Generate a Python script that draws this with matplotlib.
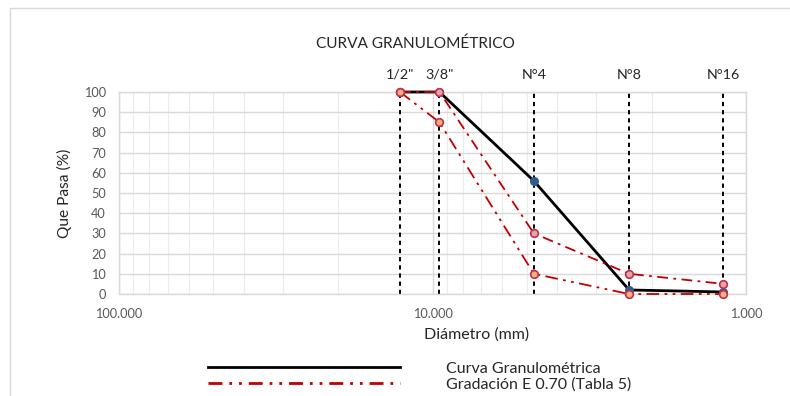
import matplotlib
matplotlib.use("Agg")
import matplotlib.pyplot as plt
from matplotlib.lines import Line2D
from matplotlib.patches import Rectangle
from matplotlib.ticker import FixedLocator, NullFormatter, LogLocator

plt.rcParams['font.family'] = ['Lato', 'DejaVu Sans']

# ---- data ----
sieve_labels = ['1/2"', '3/8"', 'N°4', 'N°8', 'N°16']
diam_mm = [12.7, 9.5, 4.75, 2.36, 1.18]
curva = [100, 100, 56, 2, 1]
limite_sup = [100, 100, 30, 10, 5]
limite_inf = [100, 85, 10, 0, 0]
xtick_vals = [100, 10, 1]
xtick_labels = ['100.000', '10.000', '1.000']
ytick_vals = list(range(0, 101, 10))

W, H = 790, 396
fig = plt.figure(figsize=(W / 100, H / 100), dpi=100)
fig.patch.set_facecolor('white')

# outer frame (only top/left visible)
fig.add_artist(Rectangle((10 / W, -0.1), 1.2, (H - 8) / H + 0.1, transform=fig.transFigure,
                         fill=False, edgecolor='#d9d9d9', linewidth=1.0))

ax = fig.add_axes([119 / W, 1 - 294 / H, (746 - 119) / W, (294 - 92) / H])
ax.set_xscale('log')
ax.set_xlim(100, 1)
ax.set_ylim(0, 100)

ax.xaxis.set_major_locator(FixedLocator(xtick_vals))
ax.set_xticklabels(xtick_labels)
ax.xaxis.set_minor_locator(LogLocator(base=10, subs=range(2, 10)))
ax.xaxis.set_minor_formatter(NullFormatter())
ax.set_yticks(ytick_vals)

ax.grid(True, which='major', color='#d9d9d9', linewidth=1.0)
ax.grid(True, which='minor', axis='x', color='#ececec', linewidth=0.8)
ax.set_axisbelow(True)
for s in ax.spines.values():
    s.set_color('#d9d9d9')
    s.set_linewidth(1.0)
ax.tick_params(axis='both', which='both', length=0, labelsize=9.2, labelcolor='#595959')
ax.tick_params(axis='x', pad=10)
ax.tick_params(axis='y', pad=9.5)

# vertical sieve lines
for d, lab in zip(diam_mm, sieve_labels):
    ax.plot([d, d], [0, 100], color='black', linestyle=(0, (2.2, 2.0)), linewidth=1.4, zorder=2)
    ax.text(d, 105.5, lab, ha='center', va='bottom', fontsize=10.3, color='#262626')

red = '#c00000'
ax.plot(diam_mm, curva, color='black', linewidth=2.0, marker='o', markersize=5.5,
        markerfacecolor='#2f5b95', markeredgecolor='#2f5b95', zorder=3, clip_on=False)
ax.plot(diam_mm, limite_sup, color=red, linestyle=(0, (6, 3, 1.5, 3)), linewidth=1.3,
        marker='o', markersize=5.5, markerfacecolor='#e6a3ae', markeredgecolor='#c0304a',
        markeredgewidth=1.2, zorder=4, clip_on=False)
ax.plot(diam_mm, limite_inf, color=red, linestyle=(0, (7, 3, 1.5, 3, 1.5, 3)), linewidth=1.3,
        marker='o', markersize=5.5, markerfacecolor='#f0b080', markeredgecolor='#c0304a',
        markeredgewidth=1.2, zorder=4, clip_on=False)

ax.set_ylabel('Que Pasa (%)', fontsize=11.2, color='#262626', labelpad=8.5)
fig.text(477 / W, 1 - 335 / H, 'Diámetro (mm)', ha='center', va='center',
         fontsize=11.5, color='#262626')
fig.text(415 / W, 1 - 44 / H, 'CURVA GRANULOMÉTRICO', ha='center', va='center',
         fontsize=11.1, color='#262626')

handles = [Line2D([], [], color='black', linewidth=2.0),
           Line2D([], [], color=red, linewidth=2.0, linestyle=(0, (5, 2.5, 1, 2.5, 1, 2.5)))]
fig.legend(handles, ['Curva Granulométrica', 'Gradación E 0.70 (Tabla 5)'],
           loc='upper left', bbox_to_anchor=(202 / W, 1 - 355 / H), frameon=False,
           fontsize=11.5, handlelength=12.0, handletextpad=2.85, labelspacing=0.1,
           labelcolor='#262626', borderaxespad=0)

fig.savefig('out.png', dpi=100)
